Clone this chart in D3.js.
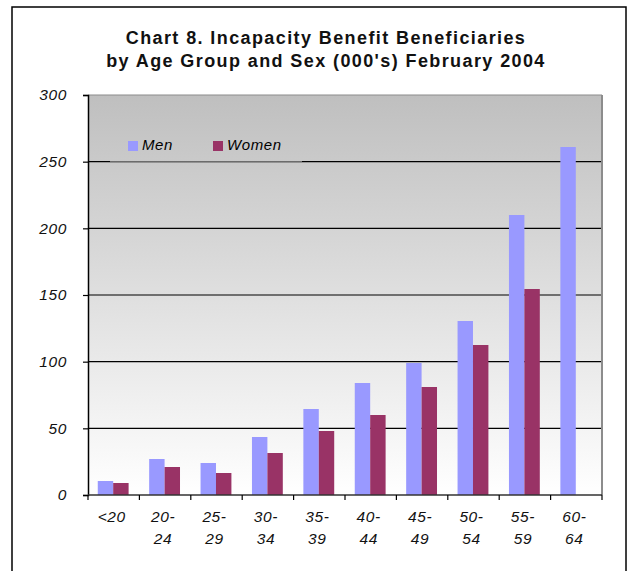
<!DOCTYPE html>
<html>
<head>
<meta charset="utf-8">
<script src="https://cdn.jsdelivr.net/npm/d3@7"></script>
<style>
  html, body { margin: 0; padding: 0; background: #fff; }
  svg { display: block; font-family: "Liberation Sans", Arial, sans-serif; }
</style>
</head>
<body>
<svg id="chart" width="632" height="571"></svg>
<script>
// Age groups (two-line labels) and beneficiaries in thousands
const ageGroups = ["<20", "20-24", "25-29", "30-34", "35-39", "40-44", "45-49", "50-54", "55-59", "60-64"];
const ageLines = [["<20"], ["20-", "24"], ["25-", "29"], ["30-", "34"], ["35-", "39"], ["40-", "44"], ["45-", "49"], ["50-", "54"], ["55-", "59"], ["60-", "64"]];
const men   = [10.5, 27, 24, 43.5, 64.5, 84, 99, 130.5, 210, 261];
const women = [9, 21, 16.5, 31.5, 48, 60, 81, 112.5, 154.5, null];
const yTicks = [0, 50, 100, 150, 200, 250, 300];
const seriesNames = ["Men", "Women"];
const seriesColors = ["#9999ff", "#993366"];
const titleLines = ["Chart 8. Incapacity Benefit Beneficiaries", "by Age Group and Sex (000's) February 2004"];

const svg = d3.select("#chart");
const plot = { left: 88, right: 602, top: 95, bottom: 495 };

// Outer frame
svg.append("rect")
  .attr("x", 12).attr("y", 7).attr("width", 614).attr("height", 600)
  .attr("fill", "none").attr("stroke", "#000").attr("stroke-width", 1.5);

// Title
svg.append("g").selectAll("text").data(titleLines).join("text")
  .attr("x", 326).attr("y", (d, i) => 44 + i * 23)
  .attr("text-anchor", "middle")
  .attr("font-size", 18).attr("font-weight", "bold")
  .attr("letter-spacing", 1.4)
  .attr("fill", "#111")
  .text(d => d);

// Plot background gradient (in user space so the legend can share it)
const defs = svg.append("defs");
const grad = defs.append("linearGradient").attr("id", "bg")
  .attr("gradientUnits", "userSpaceOnUse")
  .attr("x1", 0).attr("y1", plot.top).attr("x2", 0).attr("y2", plot.bottom);
grad.append("stop").attr("offset", "0%").attr("stop-color", "#bfbfbf");
grad.append("stop").attr("offset", "100%").attr("stop-color", "#ffffff");
svg.append("rect")
  .attr("x", plot.left).attr("y", plot.top)
  .attr("width", plot.right - plot.left).attr("height", plot.bottom - plot.top)
  .attr("fill", "url(#bg)");

// Scales
const x = d3.scaleBand().domain(ageGroups).range([plot.left, plot.right]).padding(0);
const bw = x.bandwidth();
const x1 = d3.scaleBand().domain(seriesNames).range([bw * 0.19, bw * 0.79]).padding(0);
const y = d3.scaleLinear().domain([0, 300]).range([plot.bottom, plot.top]);

// Gridlines
svg.append("g").selectAll("line").data(yTicks.filter(t => t > 0 && t < 300)).join("line")
  .attr("x1", plot.left).attr("x2", plot.right)
  .attr("y1", d => y(d)).attr("y2", d => y(d))
  .attr("stroke", "#000").attr("stroke-width", 1.2);

// Plot border (top and right in gray)
svg.append("line").attr("x1", plot.left).attr("x2", plot.right).attr("y1", plot.top).attr("y2", plot.top)
  .attr("stroke", "#8c8c8c").attr("stroke-width", 1.2);
svg.append("line").attr("x1", plot.right).attr("x2", plot.right).attr("y1", plot.top).attr("y2", plot.bottom)
  .attr("stroke", "#8c8c8c").attr("stroke-width", 2);

// Legend box sits over the plot, hiding part of a gridline
const legend = svg.append("g");
legend.append("rect")
  .attr("x", 110).attr("y", 122).attr("width", 192).attr("height", 39)
  .attr("fill", "url(#bg)");
legend.append("line").attr("x1", 110).attr("x2", 302).attr("y1", y(250)).attr("y2", y(250))
  .attr("stroke", "#808080").attr("stroke-width", 1);
const lx = [128, 213];
seriesNames.forEach((name, i) => {
  legend.append("rect").attr("x", lx[i]).attr("y", 141).attr("width", 10).attr("height", 10)
    .attr("fill", seriesColors[i]);
  legend.append("text").attr("x", lx[i] + 14).attr("y", 150)
    .attr("font-size", 15).attr("font-style", "italic").attr("letter-spacing", 0.6)
    .attr("fill", "#000").text(name);
});

// Bars
const series = [men, women];
const bars = svg.append("g");
ageGroups.forEach((g, gi) => {
  seriesNames.forEach((s, si) => {
    const v = series[si][gi];
    if (v == null) return;
    bars.append("rect")
      .attr("x", x(g) + x1(s))
      .attr("y", y(v))
      .attr("width", x1.bandwidth())
      .attr("height", y(0) - y(v))
      .attr("fill", seriesColors[si]);
  });
});

// Y axis
const yAxis = svg.append("g").attr("transform", `translate(${plot.left},0)`)
  .call(d3.axisLeft(y).tickValues(yTicks).tickSize(5).tickPadding(16).tickFormat(d3.format("d")));
yAxis.select(".domain").attr("stroke", "#000").attr("stroke-width", 1.5);
yAxis.selectAll(".tick line").attr("stroke", "#000").attr("stroke-width", 1.2);
yAxis.selectAll(".tick text")
  .attr("font-size", 15.5).attr("font-style", "italic").attr("letter-spacing", 0.6)
  .attr("fill", "#111").attr("font-family", "Liberation Sans, Arial, sans-serif");

// X axis: ticks at category boundaries
const xAxisG = svg.append("g");
xAxisG.append("line").attr("x1", plot.left).attr("x2", plot.right).attr("y1", plot.bottom).attr("y2", plot.bottom)
  .attr("stroke", "#333").attr("stroke-width", 1.5);
const boundaries = ageGroups.map(g => x(g)).concat([plot.right]);
xAxisG.selectAll("line.tick").data(boundaries).join("line")
  .attr("class", "tick")
  .attr("x1", d => d).attr("x2", d => d)
  .attr("y1", plot.bottom).attr("y2", plot.bottom + 5)
  .attr("stroke", "#000").attr("stroke-width", 1.2);
const labels = xAxisG.selectAll("text").data(ageGroups).join("text")
  .attr("text-anchor", "middle")
  .attr("font-size", 15.5).attr("font-style", "italic").attr("letter-spacing", 0.6)
  .attr("fill", "#111");
labels.each(function(g, i) {
  const t = d3.select(this);
  ageLines[i].forEach((line, li) => {
    t.append("tspan")
      .attr("x", x(g) + bw / 2 - 2)
      .attr("y", 522 + li * 22)
      .text(line);
  });
});
</script>
</body>
</html>
